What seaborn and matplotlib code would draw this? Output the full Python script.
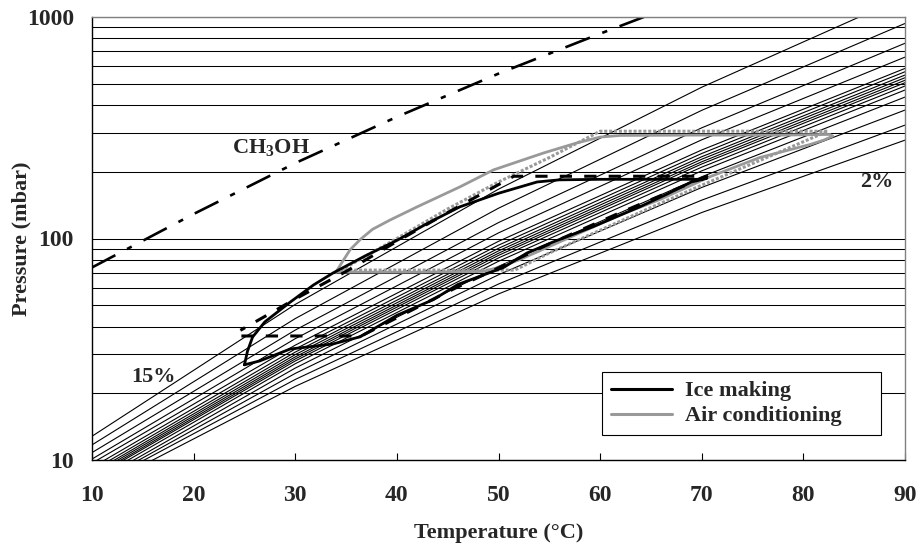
import matplotlib
matplotlib.use("Agg")
import matplotlib.pyplot as plt
import numpy as np
import pandas as pd
import seaborn as sns
from matplotlib.lines import Line2D
from matplotlib.ticker import FixedLocator, FixedFormatter, NullLocator

# ---------------- data ----------------
iso_temps = [10, 30, 50, 70, 90]
iso_pressures = [
    [12.8, 50.4, 167, 482, 1236],
    [11.7, 43.5, 137, 379, 935],
    [10.8, 38.6, 118, 316, 761],
    [10.1, 35.3, 106, 279, 659],
    [9.68, 33.0, 97.1, 251, 586],
    [9.25, 31.7, 93.3, 242, 566],
    [8.95, 30.7, 90.3, 234, 547],
    [8.72, 29.9, 87.9, 228, 532],
    [8.55, 29.2, 85.8, 222, 518],
    [8.39, 28.6, 83.9, 217, 505],
    [8.26, 28.0, 81.7, 210, 488],
    [8.05, 27.2, 78.9, 202, 468],
    [7.80, 26.0, 74.8, 190, 435],
    [7.63, 24.6, 68.6, 170, 380],
    [7.48, 23.1, 62.3, 149, 325],
    [7.21, 21.5, 56.2, 131, 278],
]

methanol_T = [10, 20, 30, 40, 50, 60, 64.3]
methanol_P = [74, 129, 219, 354, 555, 841, 1000]

ice_theory_T = [24.7, 36.5, 45, 55, 62, 70.5, 51.5, 45, 40, 35, 29.8, 27.2, 24.6]
ice_theory_P = [36.3, 36.3, 57.5, 94.5, 131, 191, 191, 131, 97, 71, 52.7, 45, 38.5]

ice_meas_T = [25.0, 25.3, 25.8, 27.0, 29.5, 31.8, 33.7, 37.0, 40.0, 43.0, 46.2, 50.0,
              53.8, 56.0, 60.0, 65.0, 69.8, 70.5, 69.0, 66.5, 63.9, 59.3, 55.5, 52.8,
              50.5, 46.0, 43.6, 40.0, 36.4, 33.7, 29.5, 26.5, 25.0]
ice_meas_P = [26.9, 31.0, 35.9, 42.0, 51.6, 61.7, 69.8, 84.0, 98.0, 117, 139, 160,
              180, 184, 185, 185, 185, 187, 180, 158, 139, 113, 97, 86,
              74, 62, 53, 45, 36, 33.4, 31.7, 28.0, 26.9]

ac_theory_T = [34.5, 40, 45, 50, 55, 60, 82.4, 76, 70, 65, 60, 55, 51.6, 34.5]
ac_theory_P = [72, 100, 136, 180, 232, 305, 305, 228, 174, 138, 109, 86, 72, 72]

ac_meas_T = [34.0, 34.6, 35.4, 36.4, 37.6, 39.3, 42.0, 46.2, 49.5, 54.4, 57.7, 60.0, 62.0,
             70.0, 78.0, 82.6, 82.9, 82.0, 80.7, 75.7, 70.8, 65.9, 62.0, 58.0, 55.0,
             52.0, 50.0, 48.5, 42.0, 34.0]
ac_meas_P = [70.5, 78, 89, 99, 110, 121, 139, 171, 204, 243, 270, 287, 292,
             293, 293, 295, 290, 278, 266, 232, 190, 150, 128, 106, 92,
             80, 74, 71, 70.5, 70.5]

x_ticks = [10, 20, 30, 40, 50, 60, 70, 80, 90]
y_tick_values = [10, 100, 1000]
y_tick_labels = ["10", "100", "1000"]
grid_levels = [10, 20, 30, 40, 50, 60, 70, 80, 90,
               100, 200, 300, 400, 500, 600, 700, 800, 900, 1000]
legend_labels = ["Ice making", "Air conditioning"]

# ---------------- style ----------------
sns.set_style("white")
plt.rcParams['font.family'] = ['Liberation Serif', 'DejaVu Serif']
plt.rcParams['font.weight'] = 'bold'
plt.rcParams['mathtext.fontset'] = 'custom'
plt.rcParams['mathtext.rm'] = 'Liberation Serif:bold'
plt.rcParams['mathtext.bf'] = 'Liberation Serif:bold'
plt.rcParams['mathtext.it'] = 'Liberation Serif:bold'

GRAY = '#999999'

fig = plt.figure(figsize=(9.19, 5.44), dpi=100)
ax = fig.add_axes([92 / 919, 84 / 544, 813 / 919, 443 / 544])
ax.set_yscale('log')
ax.set_xlim(10, 90)
ax.set_ylim(10, 1000)

for g in grid_levels:
    ax.axhline(g, color='black', lw=0.75, zorder=0.5)

# isosteres
rows = []
for i, ps in enumerate(iso_pressures):
    for t, p in zip(iso_temps, ps):
        rows.append({'line': i, 'T': t, 'P': p})
iso_df = pd.DataFrame(rows)
sns.lineplot(data=iso_df, x='T', y='P', units='line', estimator=None, sort=False,
             color='black', lw=0.8, ax=ax, legend=False, zorder=1)

# methanol saturation
sns.lineplot(x=methanol_T, y=methanol_P, estimator=None, sort=False,
             color='black', lw=1.9, ax=ax, legend=False, zorder=2)
ax.get_lines()[-1].set_dashes([10, 5, 2, 5])

# air conditioning
sns.lineplot(x=ac_meas_T, y=ac_meas_P, estimator=None, sort=False,
             color=GRAY, lw=2.0, ax=ax, legend=False, zorder=3)
sns.lineplot(x=ac_theory_T, y=ac_theory_P, estimator=None, sort=False,
             color=GRAY, lw=2.2, ax=ax, legend=False, zorder=4)
ln = ax.get_lines()[-1]
ln.set_dashes([1.0, 0.6])
ln.set_dash_capstyle('butt')

# ice making
sns.lineplot(x=ice_meas_T, y=ice_meas_P, estimator=None, sort=False,
             color='black', lw=2.0, ax=ax, legend=False, zorder=5)
sns.lineplot(x=ice_theory_T, y=ice_theory_P, estimator=None, sort=False,
             color='black', lw=2.2, ax=ax, legend=False, zorder=6)
ax.get_lines()[-1].set_dashes([4, 4])

# annotations
ax.text(23.8, 243, "CH$_3$OH", fontsize=16, fontweight='bold', ha='left', va='baseline', zorder=7)
ax.text(13.9, 22.5, "15%", fontsize=16, fontweight='bold', ha='left', va='baseline', zorder=7)
ax.text(85.6, 170.8, "2%", fontsize=16, fontweight='bold', ha='left', va='baseline', zorder=7)

# axes / ticks
ax.xaxis.set_major_locator(FixedLocator(x_ticks))
ax.set_xticklabels([str(v) for v in x_ticks])
ax.yaxis.set_major_locator(FixedLocator(y_tick_values))
ax.yaxis.set_major_formatter(FixedFormatter(y_tick_labels))
ax.yaxis.set_minor_locator(NullLocator())
ax.tick_params(axis='x', direction='in', length=5, width=0.8, color='black',
               labelsize=17, pad=18, bottom=True, top=False)
ax.tick_params(axis='y', length=0, labelsize=17, pad=13, left=True, right=False)
for lab in ax.get_xticklabels() + ax.get_yticklabels():
    lab.set_fontweight('bold')

ax.set_xlabel("Temperature (°C)", fontsize=16, fontweight='bold', labelpad=12)
ax.set_ylabel("Pressure (mbar)", fontsize=16, fontweight='bold')
ax.yaxis.set_label_coords(-0.074, 0.5)

for side in ['left', 'bottom']:
    ax.spines[side].set_color('black')
    ax.spines[side].set_linewidth(1.0)
for side in ['top', 'right']:
    ax.spines[side].set_color('#808080')
    ax.spines[side].set_linewidth(1.0)
for s in ax.spines.values():
    s.set_zorder(8)

handles = [Line2D([], [], color='black', lw=2.2), Line2D([], [], color=GRAY, lw=2.2)]
leg = ax.legend(handles, legend_labels, loc='lower left',
                bbox_to_anchor=(0.627, 0.056, 0.343, 0.147), mode='expand',
                frameon=True, fancybox=False, edgecolor='black', framealpha=1,
                borderpad=0.4, labelspacing=0.2, handlelength=2.75, handletextpad=0.6,
                borderaxespad=0, prop={'size': 16, 'weight': 'bold'})
leg.get_frame().set_linewidth(0.8)
leg.set_zorder(10)

fig.savefig("out.png", dpi=100)
